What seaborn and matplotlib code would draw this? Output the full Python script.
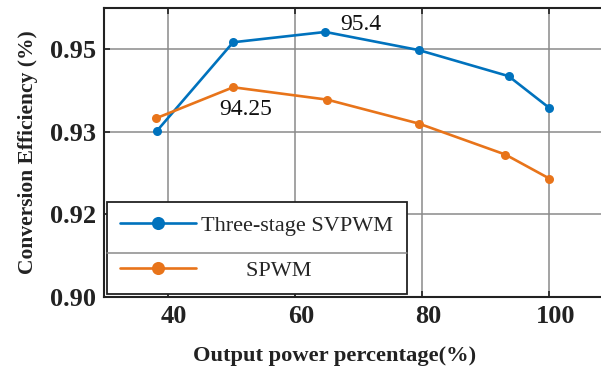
import matplotlib
matplotlib.use("Agg")
import matplotlib.pyplot as plt
import matplotlib.transforms as mtrans
import seaborn as sns
import pandas as pd

# ---- data ----
power_svpwm = [38.3, 50.3, 64.8, 79.5, 93.6, 100.0]
eff_svpwm = [0.9302, 0.9517, 0.9542, 0.9498, 0.9435, 0.9358]
power_spwm = [38.2, 50.3, 65.1, 79.5, 93.1, 100.0]
eff_spwm = [0.9333, 0.9408, 0.9378, 0.9320, 0.9245, 0.9187]
series_names = ["Three-stage SVPWM", "SPWM"]
x_ticks = [40, 60, 80, 100]
y_ticks = [0.89, 0.91, 0.93, 0.95]
y_tick_labels = ["0.90", "0.92", "0.93", "0.95"]
annot_texts = ["95.4", "94.25"]
annot_pos = [(70.4, 0.9561), (52.3, 0.9355)]

sns.set_theme(style="white")
plt.rcParams["font.family"] = ["Liberation Serif", "DejaVu Serif"]

blue = "#0072BD"
orange = "#E8741A"

fig = plt.figure(figsize=(6.01, 3.67), dpi=100)
ax = fig.add_axes([104 / 601, 70 / 367, 508.9 / 601, 289 / 367])

df1 = pd.DataFrame({"x": power_svpwm, "y": eff_svpwm})
df2 = pd.DataFrame({"x": power_spwm, "y": eff_spwm})
sns.lineplot(data=df1, x="x", y="y", ax=ax, color=blue, marker="o", markersize=6.5,
             markeredgewidth=0, linewidth=1.9, label=series_names[0], zorder=3)
sns.lineplot(data=df2, x="x", y="y", ax=ax, color=orange, marker="o", markersize=6.5,
             markeredgewidth=0, linewidth=1.9, label=series_names[1], zorder=3)

ax.set_xlim(30, 110)
ax.set_ylim(0.89, 0.96)
ax.set_xticks(x_ticks)
ax.set_xticklabels([str(t) for t in x_ticks])
ax.set_yticks(y_ticks)
ax.set_yticklabels(y_tick_labels)
ax.grid(True, color="#8a8a8a", linewidth=1.1)
ax.set_axisbelow(True)

for s in ["left", "top", "bottom"]:
    ax.spines[s].set_visible(True)
    ax.spines[s].set_color("#222222")
    ax.spines[s].set_linewidth(1.5)
ax.spines["right"].set_visible(False)

ax.tick_params(axis="both", direction="in", length=4, width=1.2, color="#222222",
               labelsize=19, pad=6, top=True, left=True, bottom=True)
for lab in ax.get_xticklabels() + ax.get_yticklabels():
    lab.set_fontweight("bold")
    lab.set_color("#222222")
off = mtrans.ScaledTranslation(6 / 100, 0, fig.dpi_scale_trans)
for lab in ax.get_xticklabels():
    lab.set_transform(lab.get_transform() + off)

ax.set_xlabel("Output power percentage(%)", fontsize=16.2, fontweight="bold",
              color="#222222")
ax.xaxis.set_label_coords((335 - 104) / 508.9, -0.17)
ax.set_ylabel("Conversion Efficiency (%)", fontsize=15.5, fontweight="bold",
              color="#222222", labelpad=8)

for t, (xx, yy) in zip(annot_texts, annot_pos):
    ax.text(xx, yy, t, fontsize=17, ha="center", va="center", color="#111111")

handles, _ = ax.get_legend_handles_labels()
leg = ax.legend(handles, [series_names[0], "        " + series_names[1]],
                loc="upper left", bbox_to_anchor=(0.006, 0.329), borderaxespad=0,
                fontsize=16, frameon=True, fancybox=False, framealpha=1,
                edgecolor="#222222", handlelength=3.4, handletextpad=0.25,
                labelspacing=1.1, borderpad=0.6, markerscale=1.45)
leg.get_frame().set_linewidth(1.3)
leg.set_zorder(5)

fig.canvas.draw()
bb = leg.get_window_extent().transformed(ax.transAxes.inverted())
ymid = bb.y0 + bb.height * 0.45
ax.plot([bb.x0, bb.x1], [ymid, ymid], transform=ax.transAxes, color="#8a8a8a",
        linewidth=1.1, zorder=6, clip_on=False)

fig.savefig("out.png", dpi=100)
